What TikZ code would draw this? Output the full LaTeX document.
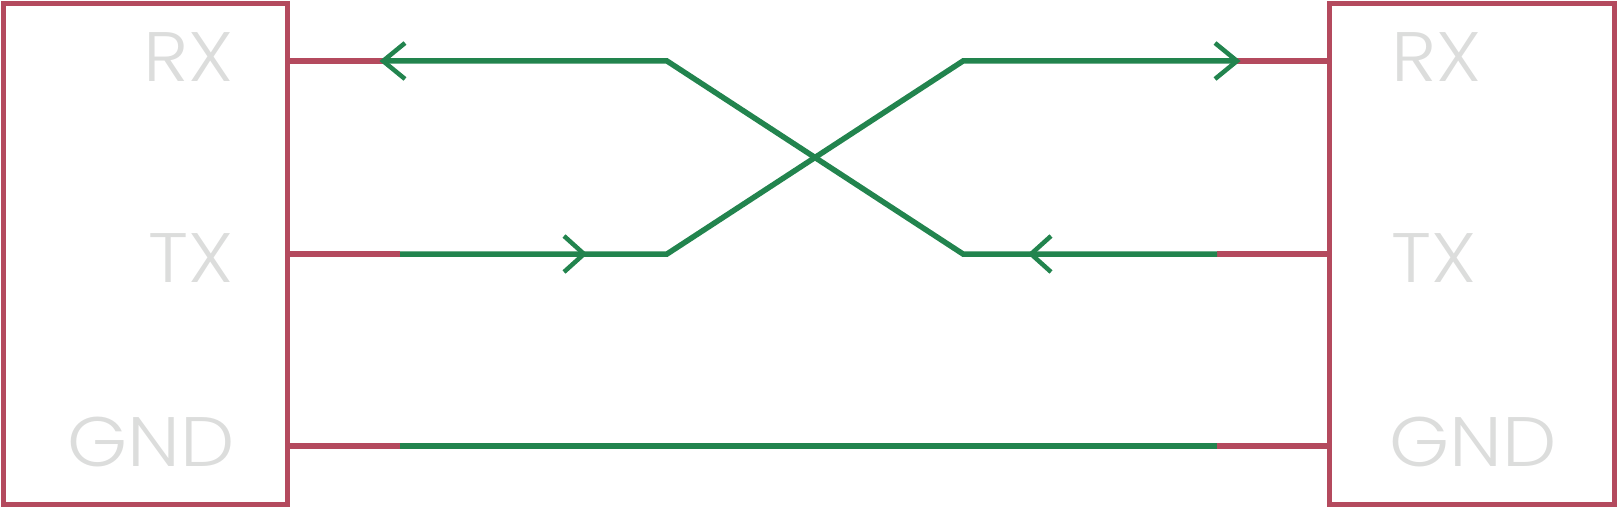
\documentclass[tikz,border=0pt]{standalone}
\usepackage{fontspec}
\setmainfont{Poppins Light}[FakeStretch=1.1]
\definecolor{pinred}{HTML}{B44A5E}
\definecolor{wiregreen}{HTML}{22844E}
\definecolor{labelgray}{HTML}{DCDDDC}
\begin{document}
\begin{tikzpicture}[x=1pt,y=-1pt,
  devbox/.style={draw=pinred,line width=5pt,minimum width=284pt,minimum height=500pt,inner sep=0pt,fill=none},
  pinwire/.style={draw=pinred,line width=5.5pt},
  signal/.style={draw=wiregreen,line width=5.5pt},
  chev/.style={draw=wiregreen,line width=4.5pt,line join=miter},
  pinlabel/.style={text=labelgray,inner sep=0pt,font=\fontsize{70}{84}\selectfont}]
\useasboundingbox (0,0) rectangle (1619,508);
\node[devbox] (L) at (145,254) {};
\node[devbox,minimum width=285pt] (R) at (1472,254) {};
% labels
\node[pinlabel,anchor=base east] (lrx) at (234,82) {RX};
\node[pinlabel,anchor=base east] (ltx) at (234,282) {TX};
\node[pinlabel,anchor=base east] (lgnd) at (235,466) {GND};
\node[pinlabel,anchor=base west] (rrx) at (1391,82) {RX};
\node[pinlabel,anchor=base west] (rtx) at (1391,282) {TX};
\node[pinlabel,anchor=base west] (rgnd) at (1389,466) {GND};
% pin coordinates
\coordinate (Lrx) at (287,61);
\coordinate (Ltx) at (287,254);
\coordinate (Lgnd) at (287,446);
\coordinate (Rrx) at (1329.5,61);
\coordinate (Rtx) at (1329.5,254);
\coordinate (Rgnd) at (1329.5,446);
% colour change points
\coordinate (a1) at (383,61);
\coordinate (a2) at (667,61);
\coordinate (a3) at (963,254);
\coordinate (a4) at (1217,254);
\coordinate (b1) at (400,254);
\coordinate (b2) at (667,254);
\coordinate (b3) at (963,61);
\coordinate (b4) at (1237,61);
\coordinate (g1) at (400,446);
\coordinate (g2) at (1217,446);
\coordinate (ta) at (1031,254);
\coordinate (tb) at (584,254);
% red stubs
\draw[pinwire] (Lrx) -- (a1);
\draw[pinwire] (Ltx) -- (b1);
\draw[pinwire] (Lgnd) -- (g1);
\draw[pinwire] (b4) -- (Rrx);
\draw[pinwire] (a4) -- (Rtx);
\draw[pinwire] (g2) -- (Rgnd);
% green signals
\draw[signal] (a1) -- (a2) -- (a3) -- (a4);
\draw[signal] (b1) -- (b2) -- (b3) -- (b4);
\draw[signal] (g1) -- (g2);
% chevrons
\draw[chev] ([shift={(22,-18)}]a1) -- (a1) -- ([shift={(22,18)}]a1);
\draw[chev] ([shift={(20,-18)}]ta) -- (ta) -- ([shift={(20,18)}]ta);
\draw[chev] ([shift={(-20,-18)}]tb) -- (tb) -- ([shift={(-20,18)}]tb);
\draw[chev] ([shift={(-22,-18)}]b4) -- (b4) -- ([shift={(-22,18)}]b4);
\end{tikzpicture}
\end{document}
